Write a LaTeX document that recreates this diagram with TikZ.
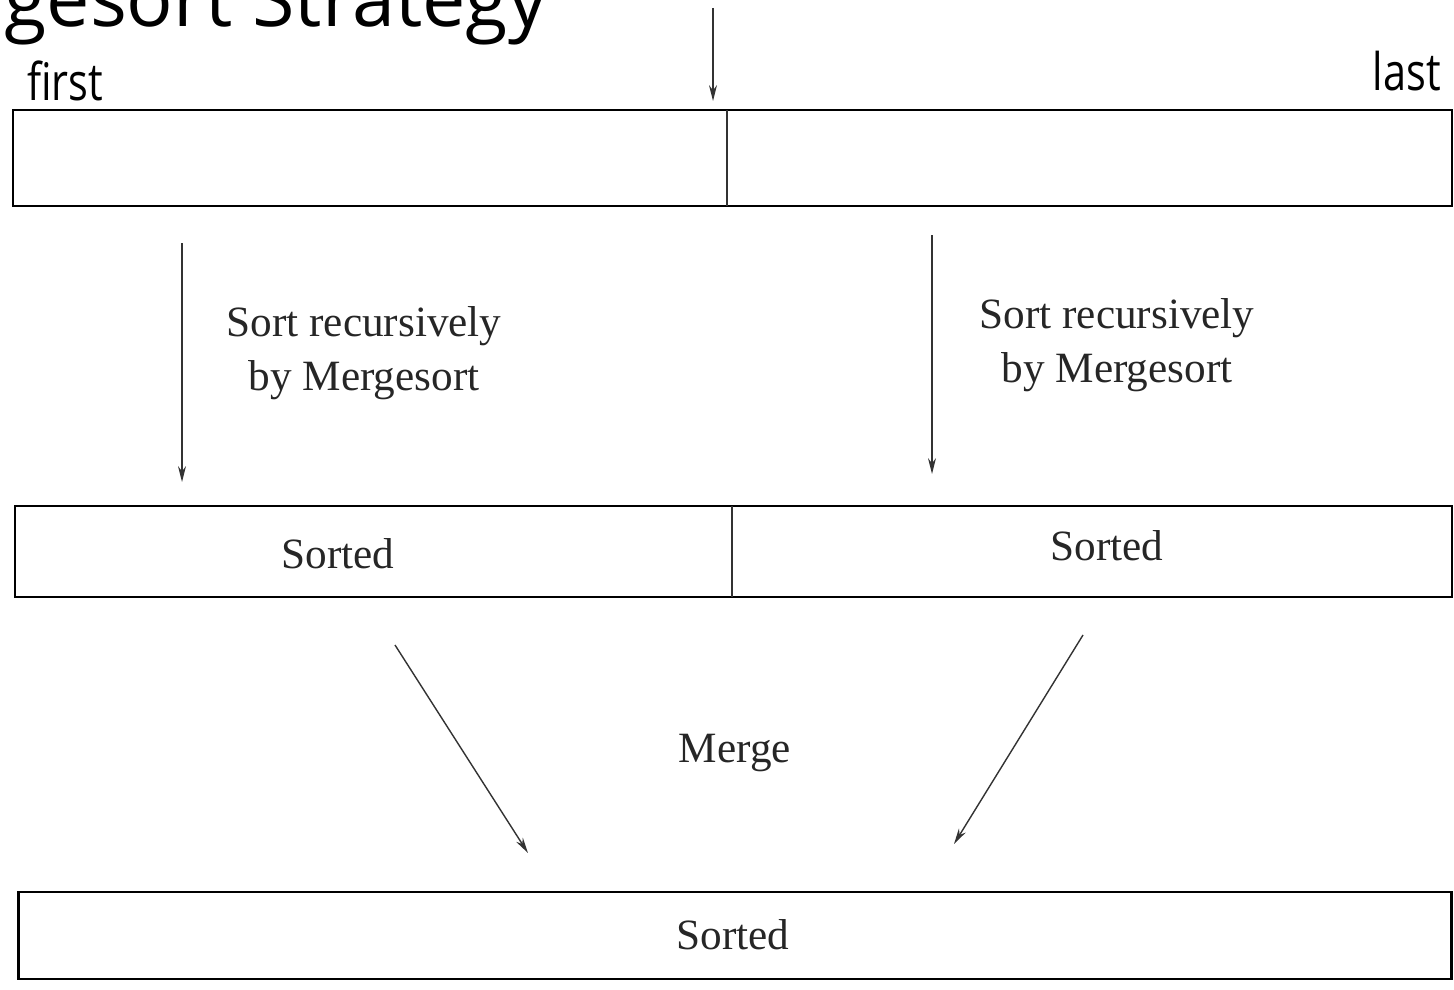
\documentclass[tikz,border=0pt]{standalone}
\usepackage{fontspec}
\setmainfont{Liberation Serif}
\newfontfamily\labsans{Open Sans}
\usetikzlibrary{arrows.meta}
\tikzset{
  px/.style={x={(0.02cm,0)}, y={(0,-0.02cm)}},
  cell/.style={draw=none, inner sep=0pt, outer sep=0pt},
  outline/.style={line width=1.6pt, black},
  divider/.style={line width=0.7pt, black!80},
  arr/.style={line width=0.8pt, black!80, -{Stealth[length=9pt, width=4.5pt]}},
  lab/.style={font=\fontsize{24.6}{31}\selectfont, inner sep=0pt, text=black!85},
  endlab/.style={font=\labsans\fontsize{29.5}{30}\selectfont, inner sep=0pt, xscale=0.8},
}
\begin{document}
\begin{tikzpicture}[px]
\useasboundingbox (0,0) rectangle (1454,990);
\clip (0,0) rectangle (1454,990);
% cut-off title
\node[anchor=base west, inner sep=0pt, font=\labsans\fontsize{44}{46}\selectfont] (title) at (-140,27) {Mergesort Strategy};
% end labels
\node[endlab, anchor=base west] (first) at (27,101) {first};
\node[endlab, anchor=base east] (last) at (1441,91) {last};
% top array
\node[cell, minimum width=14.28cm, minimum height=1.92cm] (tl) at (370,158) {};
\node[cell, minimum width=14.5cm, minimum height=1.92cm] (tr) at (1089.5,158) {};
\draw[outline] (tl.north west) rectangle (tr.south east);
\draw[divider] (tl.north east) -- (tl.south east);
% middle arrays
\node[cell, minimum width=14.34cm, minimum height=1.82cm] (ml) at (373.5,551.5) {};
\node[cell, minimum width=14.4cm, minimum height=1.82cm] (mr) at (1092,551.5) {};
\draw[outline] (ml.north west) rectangle (mr.south east);
\draw[divider] (ml.north east) -- (ml.south east);
\node[lab] (sl) at (338,554) {Sorted};
\node[lab] (sr) at (1107,546) {Sorted};
% bottom array
\node[cell, minimum width=28.68cm, minimum height=1.74cm] (bt) at (735,935.5) {};
\draw[outline] (bt.north west) rectangle (bt.south east);
\node[lab] (sb) at (733,935) {Sorted};
% split arrow
\coordinate (mtop) at (713,8);
\coordinate (mtip) at (713,101);
\draw[arr] (mtop) -- (mtip);
% recursive sort arrows
\coordinate (la) at (182,243);
\coordinate (lb) at (182,482);
\coordinate (ra) at (932,235);
\coordinate (rb) at (932,474);
\draw[arr] (la) -- (lb);
\draw[arr] (ra) -- (rb);
\node[lab, align=center] (recl) at (364,353) {Sort recursively\\by Mergesort};
\node[lab, align=center] (recr) at (1117,345) {Sort recursively\\by Mergesort};
% merge arrows
\coordinate (m1a) at (395,645);
\coordinate (m1b) at (528,853);
\coordinate (m2a) at (1083,635);
\coordinate (m2b) at (954,844);
\draw[arr] (m1a) -- (m1b);
\draw[arr] (m2a) -- (m2b);
\node[lab] (merge) at (735,753) {Merge};
\end{tikzpicture}
\end{document}
